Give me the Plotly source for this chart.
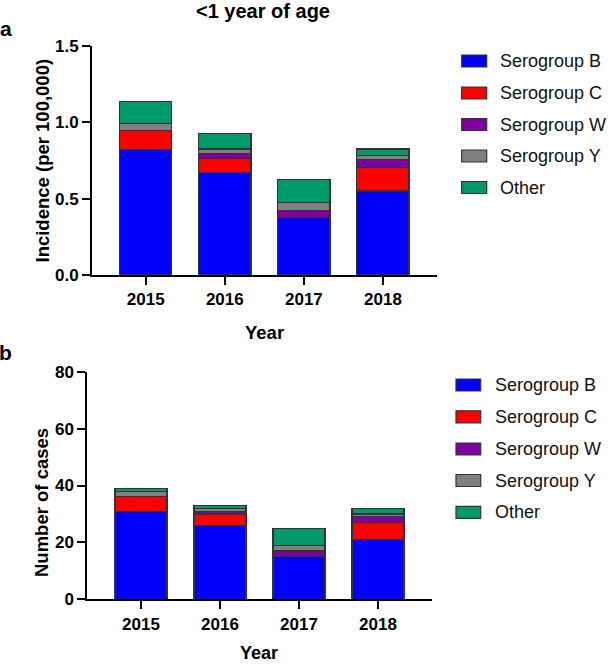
import plotly.graph_objects as go

years = ["2015", "2016", "2017", "2018"]
series_names = ["Serogroup B", "Serogroup C", "Serogroup W", "Serogroup Y", "Other"]
series_colors = ["#0000FF", "#FF0000", "#7F00A0", "#808080", "#00996B"]

# Panel a: incidence per 100,000
inc_B = [0.82, 0.67, 0.375, 0.55]
inc_C = [0.125, 0.095, 0.0, 0.155]
inc_W = [0.0, 0.03, 0.05, 0.05]
inc_Y = [0.05, 0.03, 0.05, 0.03]
inc_Other = [0.14, 0.10, 0.15, 0.04]

# Panel b: number of cases
cas_B = [31, 26, 15, 21]
cas_C = [5, 4, 0, 6]
cas_W = [0, 1, 2, 2]
cas_Y = [2, 1, 2, 1]
cas_Other = [1, 1, 6, 2]

inc_series = [inc_B, inc_C, inc_W, inc_Y, inc_Other]
cas_series = [cas_B, cas_C, cas_W, cas_Y, cas_Other]

W, H = 613, 664
FONT = "Liberation Sans, Arial, sans-serif"

def px(x):
    return x / W

def py(y):
    return 1 - y / H

fig = go.Figure()
for name, color, vals in zip(series_names, series_colors, inc_series):
    fig.add_trace(go.Bar(x=years, y=vals, name=name, marker=dict(color=color, line=dict(color="#333333", width=1.2)),
                         xaxis="x", yaxis="y", showlegend=False))
for name, color, vals in zip(series_names, series_colors, cas_series):
    fig.add_trace(go.Bar(x=years, y=vals, name=name, marker=dict(color=color, line=dict(color="#333333", width=1.2)),
                         xaxis="x2", yaxis="y2", showlegend=False))

axis_common = dict(showline=True, linecolor="black", linewidth=2, ticks="outside", ticklen=8, tickwidth=2,
                   tickcolor="black", showgrid=False, zeroline=False, automargin=False,
                   tickfont=dict(family=FONT, size=17, color="black", weight="bold"))

fig.update_layout(
    width=W, height=H, margin=dict(l=0, r=0, t=0, b=0, pad=0, autoexpand=False),
    paper_bgcolor="white", plot_bgcolor="white",
    barmode="stack", bargap=0.34,
    xaxis=dict(domain=[px(92), px(436.7)], anchor="y", type="category", range=[-0.68, 3.68], **axis_common),
    yaxis=dict(domain=[py(275), py(46)], anchor="x", range=[0, 1.5], dtick=0.5, tickformat=".1f", **axis_common),
    xaxis2=dict(domain=[px(87.3), px(431.7)], anchor="y2", type="category", range=[-0.68, 3.68], **axis_common),
    yaxis2=dict(domain=[py(599.3), py(371.7)], anchor="x2", range=[0, 80], dtick=20, **axis_common),
)

ann = []
def text(t, x, y, size, bold=True, angle=0, xanchor="center", yanchor="middle", color="black"):
    ann.append(dict(text=t, x=px(x), y=py(y), xref="paper", yref="paper", showarrow=False,
                    xanchor=xanchor, yanchor=yanchor, textangle=angle, borderpad=0,
                    font=dict(family=FONT, size=size, color=color, weight="bold" if bold else "normal")))

text("&lt;1 year of age", 263, 11, 20)
text("a", 6, 29, 21)
text("b", 6, 353, 21)
text("Incidence (per 100,000)", 42, 160.5, 18.5, angle=-90)
text("Number of cases", 41, 503, 18.5, angle=-90)
text("Year", 264, 332, 18.5)
text("Year", 259, 664, 18, yanchor="bottom")

shapes = []
leg_a_rows = [61, 93, 124.5, 156, 187.5]
leg_b_rows = [385, 416.8, 449, 480.5, 512.3]
for name, color, ya, yb in zip(series_names, series_colors, leg_a_rows, leg_b_rows):
    shapes.append(dict(type="rect", xref="paper", yref="paper", x0=px(461.7), x1=px(486.7),
                       y0=py(ya + 6), y1=py(ya - 6), fillcolor=color, line=dict(color="#333333", width=1.2)))
    text(name, 499, ya, 18, bold=False, xanchor="left", color="#111111")
    shapes.append(dict(type="rect", xref="paper", yref="paper", x0=px(456), x1=px(480.7),
                       y0=py(yb + 6), y1=py(yb - 6), fillcolor=color, line=dict(color="#333333", width=1.2)))
    text(name, 494, yb, 18, bold=False, xanchor="left", color="#111111")

fig.update_layout(annotations=ann, shapes=shapes)
fig.write_html("out.html", config={"displayModeBar": False},
               post_script="document.body.style.margin='0';")
